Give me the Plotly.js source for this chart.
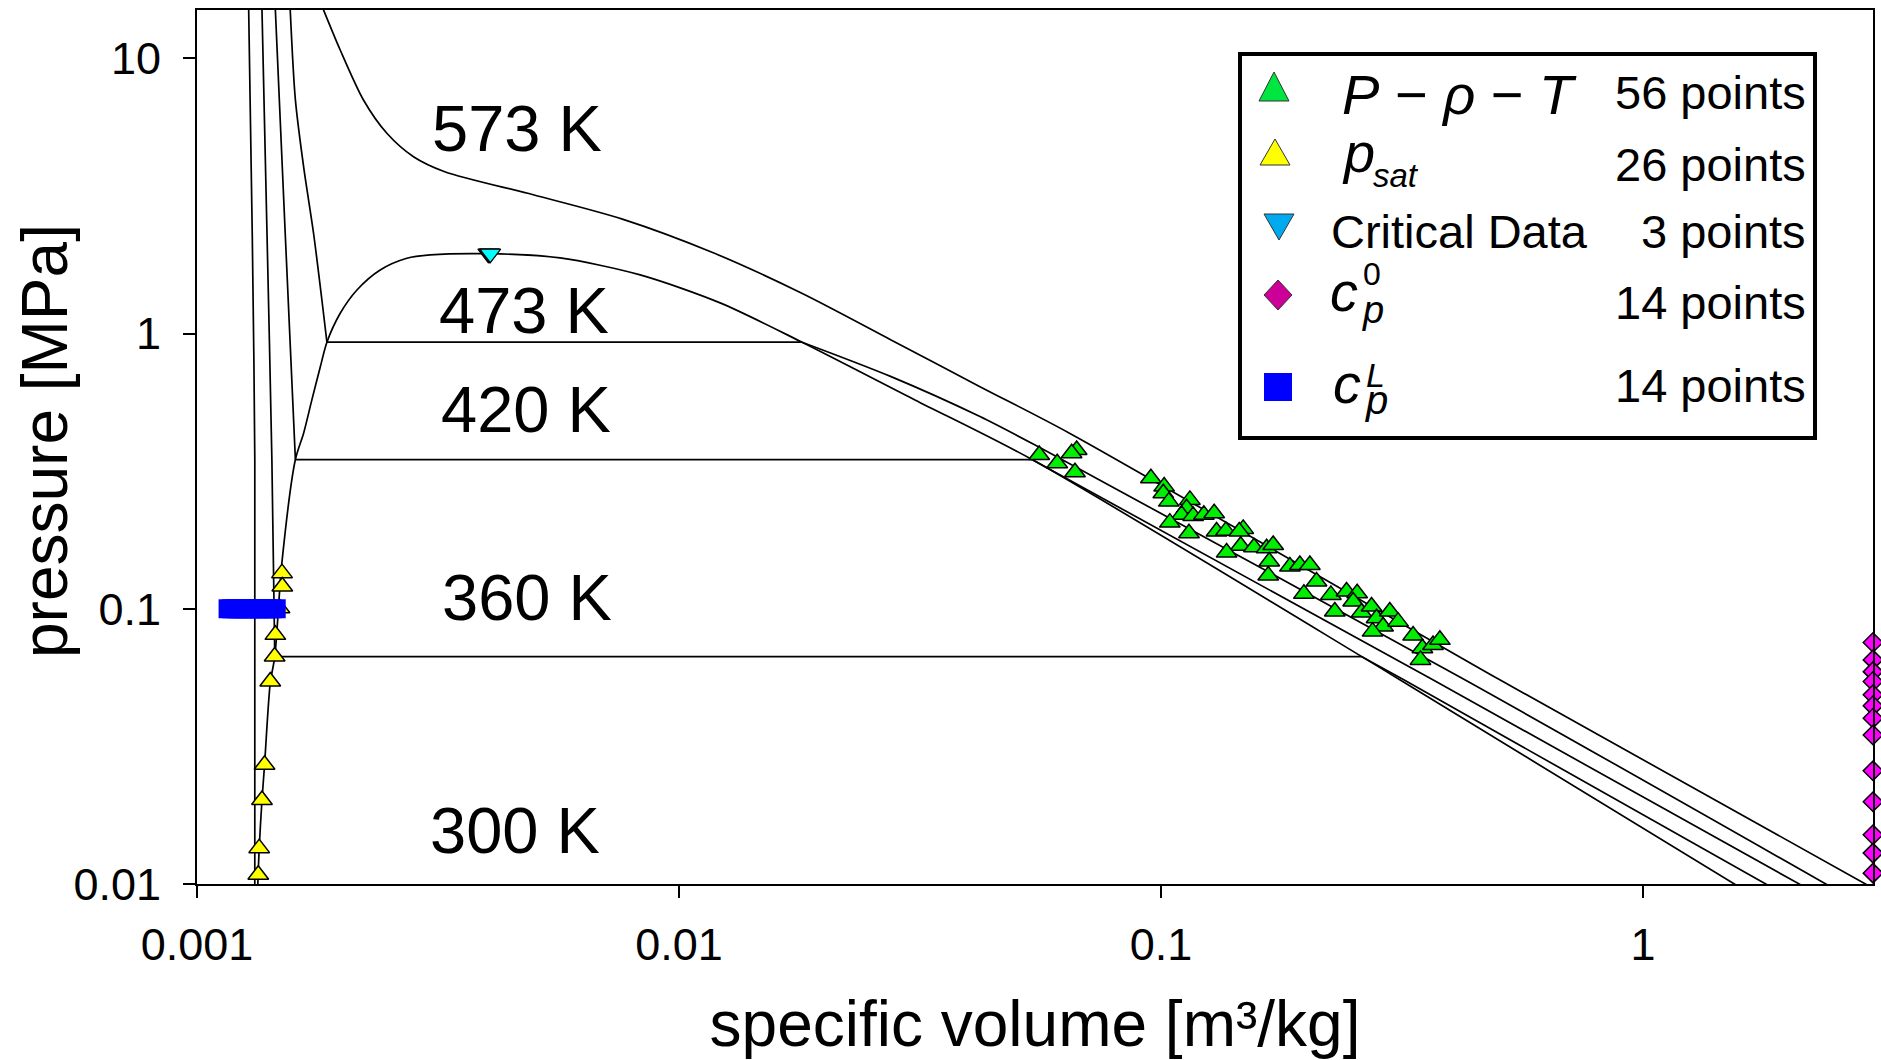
<!DOCTYPE html>
<html>
<head>
<meta charset="utf-8">
<script src="https://cdn.plot.ly/plotly-3.0.1.min.js"></script>
<style>
html,body{margin:0;padding:0;background:#fff;}
#chart{width:1881px;height:1060px;}
</style>
</head>
<body>
<div id="chart"></div>
<script>
// ---------- data: specific volume v [m3/kg], pressure p [MPa] ----------
const isoLabels = ['300 K', '360 K', '420 K', '473 K', '573 K'];

// 300 K: compressed-liquid branch only
const t300_v = [0.001280, 0.001302, 0.001318, 0.001318];
const t300_p = [15.0, 2.32, 0.35, 0.0099];

// 360 K: liquid branch, vapour branch (plateau joins their ends)
const t360_liq_v = [0.001364, 0.001397, 0.001430, 0.001450];
const t360_liq_p = [15.0, 2.32, 0.35, 0.067];
const t360_vap_v = [0.261, 0.3189, 1.816];
const t360_vap_p = [0.067, 0.0552, 0.0099];

// 420 K
const t420_liq_v = [0.001454, 0.001524, 0.001600];
const t420_liq_p = [15.0, 2.32, 0.3485];
const t420_vap_v = [0.054, 0.3664, 2.131];
const t420_vap_p = [0.3485, 0.0552, 0.0099];

// 473 K
const t473_liq_v = [0.001561, 0.001600, 0.001664, 0.001745, 0.001816, 0.001860];
const t473_liq_p = [15.0, 7.06, 4.04, 2.314, 1.324, 0.93];
const t473_vap_v = [0.018, 0.02754, 0.04211, 0.05555, 0.4268, 2.419];
const t473_vap_p = [0.93, 0.6974, 0.4993, 0.3883, 0.0552, 0.0099];

// 573 K (supercritical)
const t573_v = [0.00183, 0.001982, 0.002215, 0.002477, 0.002813, 0.003266, 0.005006, 0.007658,
                0.01174, 0.01798, 0.02754, 0.04211, 0.06458, 0.5045, 2.924];
const t573_p = [15.0, 10.72, 7.056, 5.341, 4.391, 3.873, 3.187, 2.60,
                1.97, 1.401, 0.948, 0.6413, 0.4345, 0.0552, 0.0099];

// saturation dome: liquid side -> critical point -> vapour side
const sat_v = [0.001337, 0.001346, 0.001364, 0.001380, 0.001419, 0.001450, 0.001500, 0.001600,
               0.001664, 0.001731, 0.001803, 0.001860, 0.001982, 0.002147, 0.002399, 0.002725,
               0.003046, 0.004044, 0.005667, 0.008306, 0.01217, 0.018, 0.03087, 0.054, 0.261,
               0.3129, 1.562];
const sat_p = [0.0099, 0.0135, 0.0202, 0.02665, 0.0538, 0.067, 0.1468, 0.3485,
               0.4345, 0.5739, 0.7587, 0.93, 1.185, 1.44, 1.702, 1.877,
               1.93, 1.95, 1.882, 1.633, 1.292, 0.93, 0.5739, 0.3485, 0.067,
               0.0552, 0.0099];

// measured data sets
const ppt_v = [0.05589, 0.06091, 0.06683, 0.06525, 0.0663, 0.09528, 0.1015, 0.1011, 0.1038, 0.1148,
               0.1130, 0.1103, 0.1043, 0.1166, 0.1227, 0.1289, 0.1143, 0.1304, 0.1363, 0.1481,
               0.1453, 0.1463, 0.1559, 0.1368, 0.1656, 0.1709, 0.1677, 0.1669, 0.1851, 0.1941,
               0.2036, 0.2102, 0.1979, 0.2251, 0.2426, 0.2552, 0.2504, 0.2294, 0.2606, 0.2734,
               0.2800, 0.2983, 0.2889, 0.3103, 0.2747, 0.3334, 0.3486, 0.3667, 0.3789, 0.3454];
const ppt_p = [0.3622, 0.3380, 0.3777, 0.3674, 0.3134, 0.2981, 0.2779, 0.2629, 0.2451, 0.2486,
               0.2319, 0.2194, 0.2056, 0.2175, 0.2194, 0.2225, 0.1882, 0.1908, 0.1919, 0.1951,
               0.1908, 0.1693, 0.1674, 0.1600, 0.1660, 0.1706, 0.1484, 0.1320, 0.1423, 0.1443,
               0.1443, 0.1256, 0.1133, 0.1123, 0.1155, 0.1139, 0.1062, 0.0977, 0.0969, 0.1019,
               0.0924, 0.0977, 0.0862, 0.0898, 0.0826, 0.0799, 0.0719, 0.0739, 0.0771, 0.0652];

const psat_v = [0.001501, 0.001503, 0.001483, 0.001454, 0.001449, 0.001419, 0.001381, 0.001364,
                0.001346, 0.001340, 0.001339];
const psat_p = [0.1347, 0.1204, 0.1005, 0.0804, 0.0671, 0.0544, 0.0271, 0.0202, 0.0135, 0.0108, 0.00993];

const crit_v = [0.00402, 0.00404, 0.00406];
const crit_p = [1.95, 1.95, 1.95];

const cp0_v = [3, 3, 3, 3, 3, 3, 3, 3, 3, 3, 3, 3, 3, 3];
const cp0_p = [0.0754, 0.0652, 0.0591, 0.0544, 0.0487, 0.0444, 0.0400, 0.0348, 0.0258, 0.0199,
               0.0151, 0.01295, 0.01095, 0.00985];

const cpL_v = [0.00116, 0.00118, 0.00120, 0.00122, 0.00124, 0.00126, 0.00128, 0.00130, 0.00133,
               0.00135, 0.00138, 0.00140, 0.00143, 0.00146];
const cpL_p = [0.1, 0.1, 0.1, 0.1, 0.1, 0.1, 0.1, 0.1, 0.1, 0.1, 0.1, 0.1, 0.1, 0.1];

const legendNames = ['<i>P</i> \u2212 <i>\u03c1</i> \u2212 <i>T</i>', 'p', 'Critical Data', 'c', 'c'];
const legendCounts = ['56 points', '26 points', '3 points', '14 points', '14 points'];

const xTickVals = [0.001, 0.01, 0.1, 1];
const xTickText = ['0.001', '0.01', '0.1', '1'];
const yTickVals = [0.01, 0.1, 1, 10];
const yTickText = ['0.01', '0.1', '1', '10'];
const xTitle = 'specific volume [m\u00b3/kg]';
const yTitle = 'pressure [MPa]';

// ---------- layout geometry ----------
const W = 1881, H = 1060;
const M = {l: 197, r: 8, t: 10, b: 176};
const PW = W - M.l - M.r, PH = H - M.t - M.b;
const fx = x => (x - M.l) / PW;          // page px -> paper x
const fy = y => (H - M.b - y) / PH;      // page px -> paper y
const FONT = 'Liberation Sans, Arial, sans-serif';

const lineStyle = {color: '#000', width: 1.7, shape: 'spline', smoothing: 0.8};
function curve(v, p) {
  return {x: v, y: p, type: 'scatter', mode: 'lines', line: lineStyle, hoverinfo: 'skip'};
}
function plateau(vl, pl, vv, pv) {
  return {x: [vl[vl.length - 1], vv[0]], y: [pl[pl.length - 1], pv[0]], type: 'scatter',
          mode: 'lines', line: {color: '#000', width: 1.7}, hoverinfo: 'skip'};
}
function pts(v, p, symbol, size, color, lw) {
  return {x: v, y: p, type: 'scatter', mode: 'markers', cliponaxis: false,
          marker: {symbol: symbol, size: size, color: color, line: {color: '#000', width: lw}}};
}

const traces = [
  curve(t300_v, t300_p),
  curve(t360_liq_v, t360_liq_p), plateau(t360_liq_v, t360_liq_p, t360_vap_v, t360_vap_p), curve(t360_vap_v, t360_vap_p),
  curve(t420_liq_v, t420_liq_p), plateau(t420_liq_v, t420_liq_p, t420_vap_v, t420_vap_p), curve(t420_vap_v, t420_vap_p),
  curve(t473_liq_v, t473_liq_p), plateau(t473_liq_v, t473_liq_p, t473_vap_v, t473_vap_p), curve(t473_vap_v, t473_vap_p),
  curve(t573_v, t573_p),
  curve(sat_v, sat_p),
  pts(psat_v, psat_p, 'triangle-up', 18, '#ffff00', 1.5),
  pts(cpL_v, cpL_p, 'square', 19, '#0000ff', 0),
  pts(ppt_v, ppt_p, 'triangle-up', 18, '#00ee00', 1.5),
  pts(crit_v, crit_p, 'triangle-down', 18, '#00ffff', 1.2),
  pts(cp0_v, cp0_p, 'diamond', 15, '#ff00ff', 1.5)
];

// isotherm labels (centre positions in page px)
const isoPos = [[515, 830], [527, 597], [526, 409], [524, 311], [517, 128]];
const annotations = isoLabels.map((t, i) => ({
  text: t, xref: 'paper', yref: 'paper', x: fx(isoPos[i][0]), y: fy(isoPos[i][1]),
  xanchor: 'center', yanchor: 'middle', showarrow: false,
  font: {family: FONT, size: 65, color: '#000'}
}));

// vertical axis title
annotations.push({text: yTitle, xref: 'paper', yref: 'paper', x: fx(45), y: fy(441),
  xanchor: 'center', yanchor: 'middle', textangle: -90, showarrow: false,
  font: {family: FONT, size: 64, color: '#000'}});

// legend text
function note(text, x, y, size, anchor) {
  annotations.push({text: text, xref: 'paper', yref: 'paper', x: fx(x), y: fy(y),
    xanchor: anchor || 'left', yanchor: 'middle', align: 'left', showarrow: false,
    font: {family: FONT, size: size, color: '#000'}});
}
// stacked superscript over subscript, as one two-line text
function stack(sup, supSize, sub, subSize) {
  return '<span style="font-size:' + supSize + 'px">' + sup + '</span><br>' +
         '<span style="font-size:' + subSize + 'px">' + sub + '</span>';
}
note(legendNames[0], 1340, 94, 56);
note('<i>' + legendNames[1] + '</i>', 1340, 152, 56);
note('<i>sat</i>', 1371, 175, 33);
note(legendNames[2], 1329, 232, 47);
note('<i>' + legendNames[3] + '</i>', 1328, 292, 56);
note(stack('0', 32, '<i>p</i>', 38), 1360, 293, 29);
note('<i>' + legendNames[4] + '</i>', 1331, 384, 56);
note(stack('<i>L</i>', 34, '<i>p</i>', 40), 1363, 389, 21);
const countY = [92, 164, 232, 302, 385];
legendCounts.forEach((t, i) => note(t, 1808, countY[i], 47, 'right'));

// legend frame and symbols
const shapes = [{
  type: 'rect', xref: 'paper', yref: 'paper',
  x0: fx(1240), x1: fx(1815), y0: fy(438), y1: fy(54),
  line: {color: '#000', width: 4}, fillcolor: '#fff', layer: 'above'
}];
function sym(path, cx, cy, color, lw) {
  shapes.push({type: 'path', xref: 'paper', yref: 'paper', xsizemode: 'pixel', ysizemode: 'pixel',
    xanchor: fx(cx), yanchor: fy(cy), path: path, fillcolor: color,
    line: {color: '#333', width: lw}, layer: 'above'});
}
sym('M-15,-14L15,-14L0,15Z', 1274, 87, '#00e640', 1);
sym('M-15,-13L15,-13L0,13Z', 1275, 152, '#ffff00', 1);
sym('M-15,13L15,13L0,-13Z', 1279, 227, '#00aaee', 1);
sym('M0,15L14,0L0,-15L-14,0Z', 1278, 295, '#cc0099', 1);
sym('M-14,-14L14,-14L14,14L-14,14Z', 1278, 387, '#0000ff', 0);

const axisCommon = {
  type: 'log', showgrid: false, zeroline: false, showline: true, mirror: true,
  linecolor: '#000', linewidth: 2, ticks: 'outside', ticklen: 12, tickwidth: 2, tickcolor: '#000',
  tickfont: {family: FONT, size: 45, color: '#000'}, tickmode: 'array', automargin: false
};

const layout = {
  width: W, height: H, margin: M, showlegend: false,
  paper_bgcolor: '#fff', plot_bgcolor: '#fff',
  xaxis: Object.assign({}, axisCommon, {
    range: [-3, Math.log10(3)], tickvals: xTickVals, ticktext: xTickText, ticklabelstandoff: 8,
    title: {text: xTitle, standoff: 35, font: {family: FONT, size: 64, color: '#000'}}
  }),
  yaxis: Object.assign({}, axisCommon, {
    range: [-2, 1.1755], tickvals: yTickVals, ticktext: yTickText, ticklabelstandoff: 13
  }),
  annotations: annotations,
  shapes: shapes
};

Plotly.newPlot('chart', traces, layout, {displayModeBar: false, staticPlot: true});
</script>
</body>
</html>
